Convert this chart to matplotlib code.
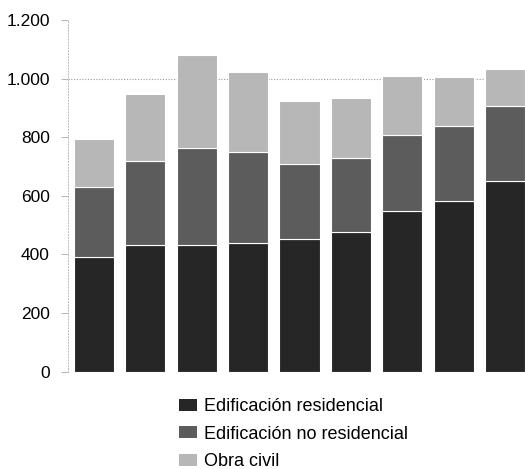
# Stacked bars: construction output by segment (residential / non-residential / civil works)

import numpy as np
import matplotlib.pyplot as plt
from matplotlib.patches import Patch
from matplotlib.ticker import FuncFormatter

plt.rcParams['font.family'] = ['Liberation Sans', 'DejaVu Sans']

labels = ['Edificación residencial', 'Edificación no residencial', 'Obra civil']
residencial = [390, 433, 434, 439, 454, 477, 550, 581, 650]
no_residencial = [239, 286, 328, 310, 255, 251, 257, 257, 255]
obra_civil = [166, 229, 317, 272, 214, 206, 202, 166, 128]
yticks = [0, 200, 400, 600, 800, 1000, 1200]

colors = ['#262626', '#5c5c5c', '#b7b7b7']

fig = plt.figure(figsize=(5.25, 4.69), dpi=100)
ax = fig.add_axes([68 / 525, (469 - 371.7) / 469, (525 - 68) / 525, (371.7 - 20) / 469])

x = np.arange(len(residencial))
bottom = np.zeros(len(x))
for vals, c in zip([residencial, no_residencial, obra_civil], colors):
    ax.bar(x, vals, width=0.78, bottom=bottom, color=c,
           edgecolor='white', linewidth=0.8, zorder=2)
    bottom += np.array(vals)

ax.set_xlim(-0.506, 8.39)
ax.set_ylim(0, 1200)
ax.set_yticks(yticks)
ax.yaxis.set_major_formatter(FuncFormatter(lambda v, _: f'{int(v):,}'.replace(',', '.')))
ax.tick_params(axis='y', length=5, width=0.6, color='#aaaaaa', labelsize=12.5, pad=8)
ax.set_xticks([])

# faint dotted reference line at 1.000
ax.axhline(1000, color='#999999', linewidth=0.8, linestyle=(0, (1, 1.5)), zorder=1)

for side in ['top', 'right', 'bottom']:
    ax.spines[side].set_visible(False)
ax.spines['left'].set_color('#bbbbbb')
ax.spines['left'].set_linestyle((0, (1, 2)))
ax.spines['left'].set_linewidth(0.7)

handles = [Patch(facecolor=c, edgecolor='none') for c in colors]
fig.legend(handles, labels, loc='upper left', bbox_to_anchor=(172 / 525, (469 - 391) / 469),
           frameon=False, fontsize=13, handlelength=1.0, handleheight=0.65,
           handletextpad=0.35, labelspacing=0.58, borderaxespad=0)

fig.savefig('out.png', dpi=100)
